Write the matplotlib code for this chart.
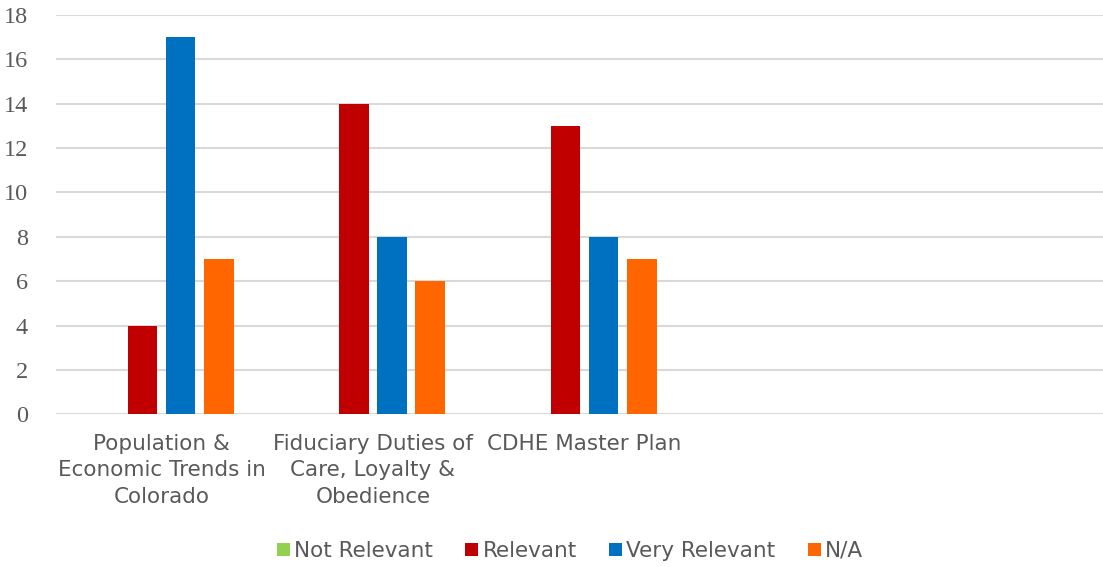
import numpy as np
import matplotlib
matplotlib.use('Agg')
import matplotlib.pyplot as plt

# data
categories = ['Population &\nEconomic Trends in\nColorado',
              'Fiduciary Duties of\nCare, Loyalty &\nObedience',
              'CDHE Master Plan', '', '']
series = ['Not Relevant', 'Relevant', 'Very Relevant', 'N/A']
not_relevant = [0, 0, 0, 0, 0]
relevant = [4, 14, 13, 0, 0]
very_relevant = [17, 8, 8, 0, 0]
n_a = [7, 6, 7, 0, 0]
colors = ['#92D050', '#C00000', '#0070C0', '#FF6600']

values = [not_relevant, relevant, very_relevant, n_a]

fig = plt.figure(figsize=(11.03, 5.67), dpi=100)
ax = fig.add_axes([55.75 / 1103, 1 - 414.3 / 567, 1057.5 / 1103, 399.6 / 567])

x_pos = np.arange(len(categories))
pitch = 0.1797
width = 0.1418
for i, (name, vals) in enumerate(zip(series, values)):
    off = (i - 1.5) * pitch
    ax.bar(x_pos + off, vals, width, color=colors[i], label=name, zorder=3)

ax.set_xlim(-0.5, len(categories) - 0.5)
ax.set_ylim(0, 18)
ax.set_yticks(range(0, 19, 2))
ax.yaxis.grid(True, color='#D9D9D9', linewidth=1.5, zorder=0)
ax.set_axisbelow(True)
for s in ax.spines.values():
    s.set_visible(False)
ax.tick_params(axis='both', length=0)
ax.tick_params(axis='y', pad=20, labelsize=17.5, labelcolor='#595959')
for lab in ax.get_yticklabels():
    lab.set_family('Liberation Serif')

ax.set_xticks(x_pos)
ax.set_xticklabels(categories, fontsize=15.5, color='#595959', linespacing=1.4,
                   family='DejaVu Sans')
ax.tick_params(axis='x', pad=14)

leg = fig.legend(loc='center', bbox_to_anchor=(570 / 1103, 1 - 551 / 567), ncol=4,
                 frameon=False, fontsize=15.5, handlelength=0.6, handleheight=0.6,
                 handletextpad=0.2, columnspacing=1.5)
for t in leg.get_texts():
    t.set_color('#595959')

fig.savefig('out.png', dpi=100)
